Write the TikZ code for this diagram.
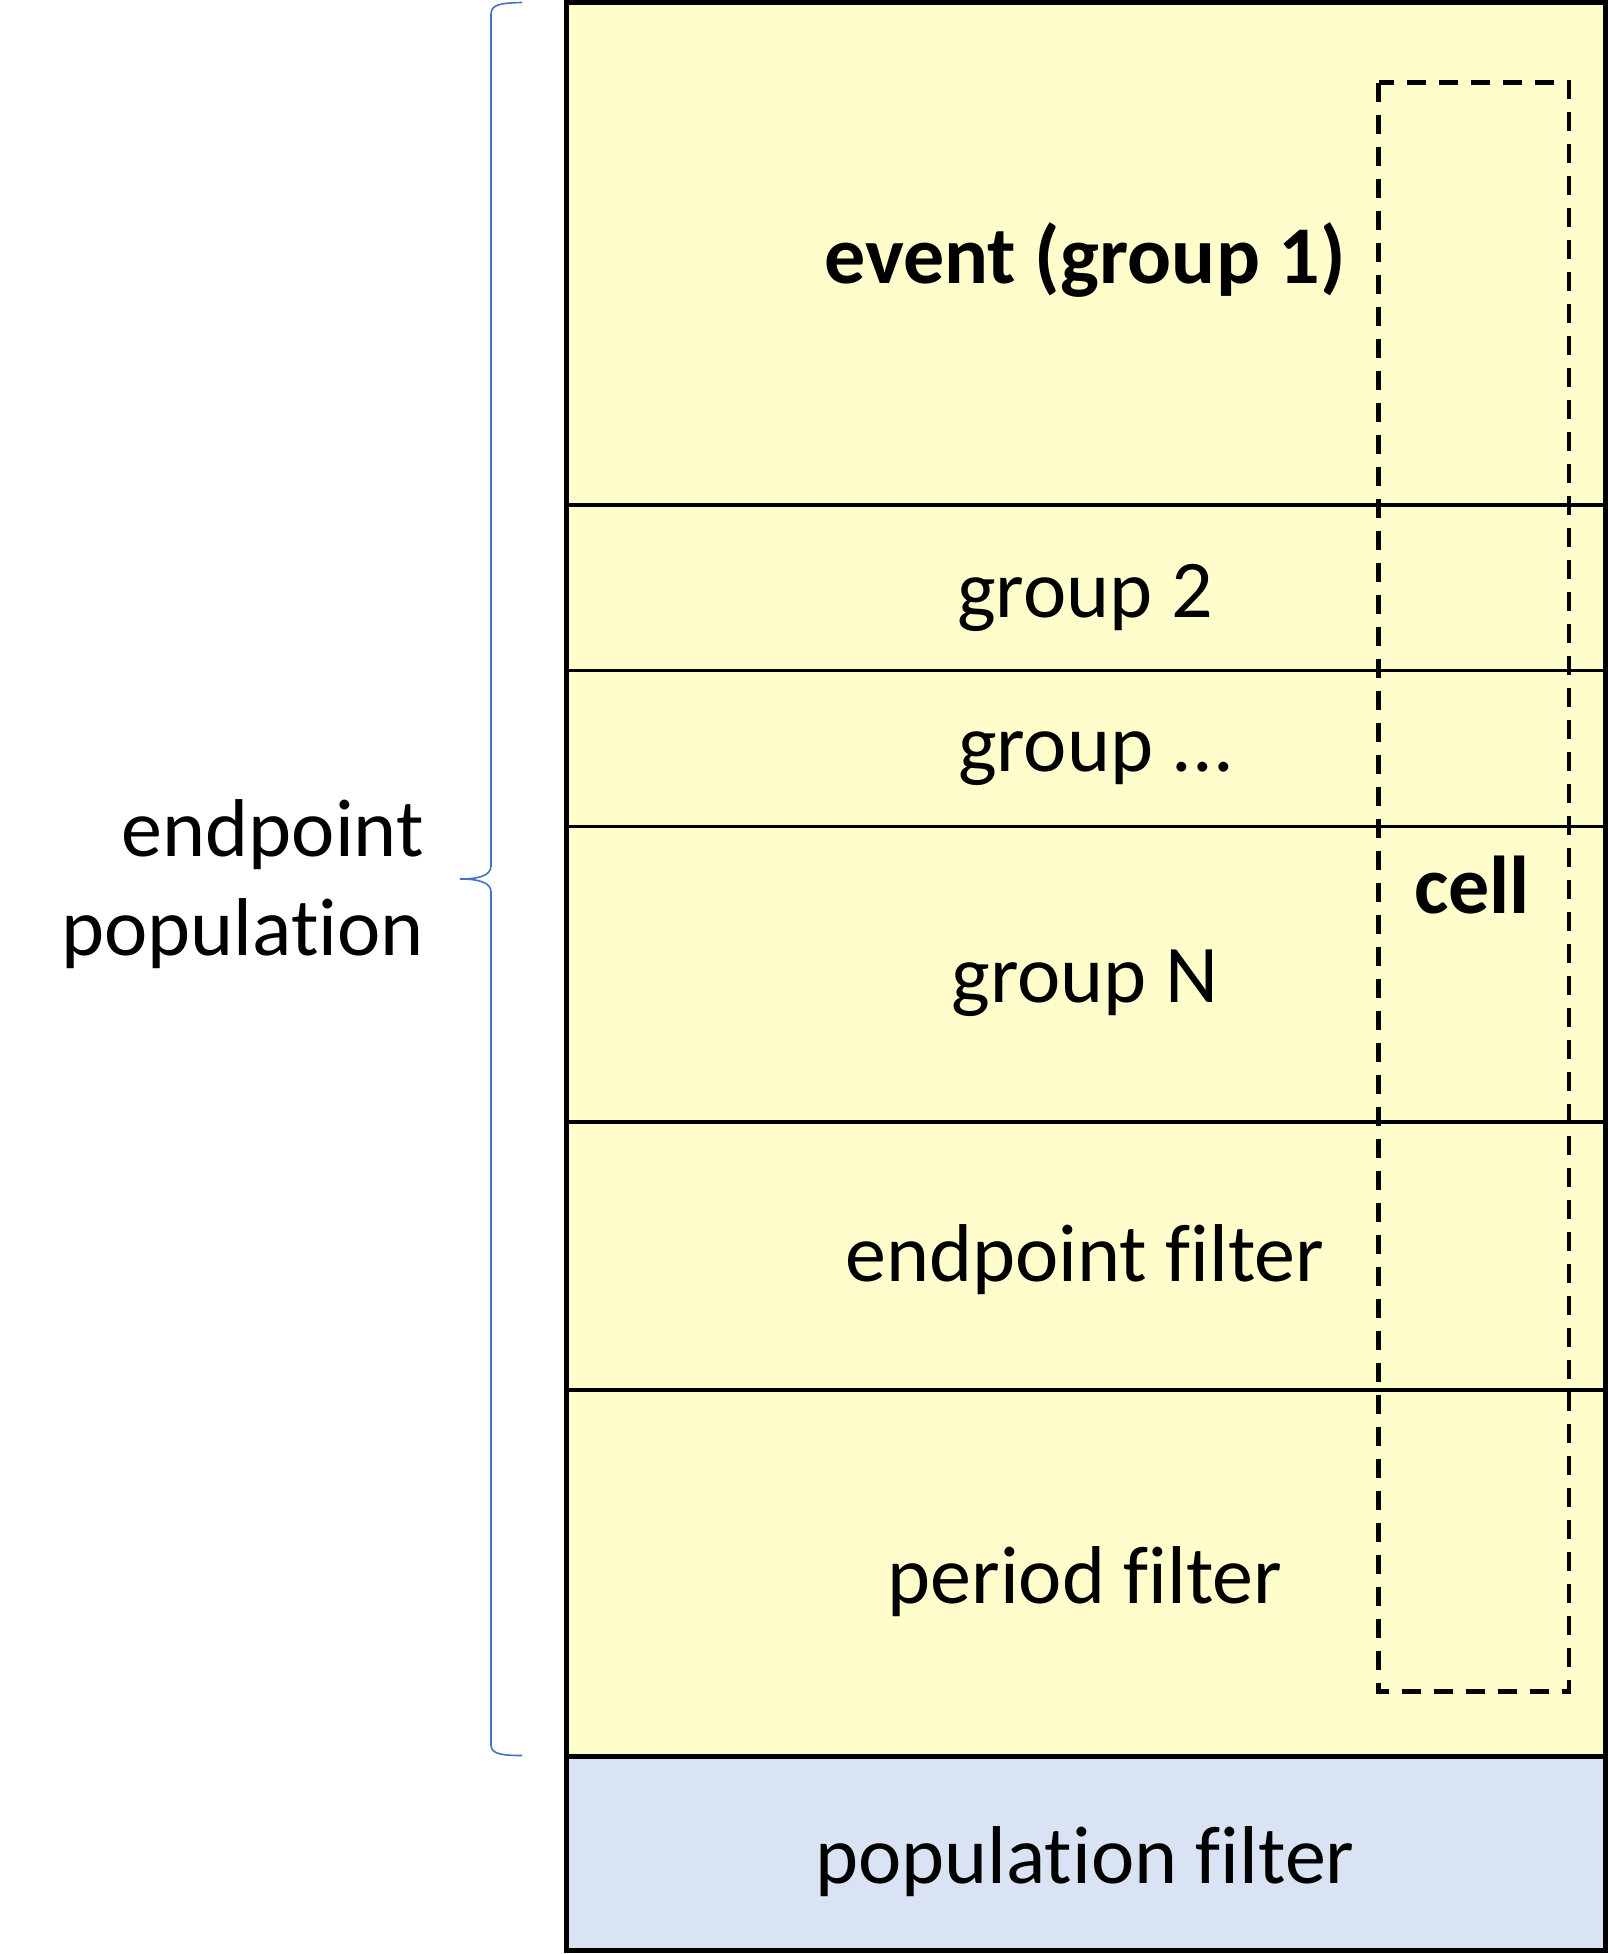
\documentclass[tikz,border=0pt]{standalone}
\usepackage{fontspec}
\setmainfont{Carlito}[Ligatures={NoCommon}]
\definecolor{rowyellow}{HTML}{FFFDCB}
\definecolor{rowblue}{HTML}{DAE3F3}
\definecolor{bracecol}{HTML}{4472C4}
\tikzset{
  frameline/.style={draw=black, line width=5pt},
  celltext/.style={anchor=base, inner sep=0pt, font=\fontsize{82}{98}\selectfont},
  boldtext/.style={celltext, font=\fontsize{82}{98}\selectfont\bfseries},
  sidetext/.style={anchor=base east, inner sep=0pt, font=\fontsize{82}{98}\selectfont},
  cellbox/.style={draw=black, line width=4.5pt, dash pattern=on 19pt off 13pt},
  bracestyle/.style={draw=bracecol, line width=1.6pt}
}
\begin{document}
\begin{tikzpicture}[x=1pt, y=-1pt]
  \useasboundingbox (0,0) rectangle (1608,1954);

  % stacked rows
  \fill[rowyellow] (566.5,2.5) rectangle (1605.5,1756.5);
  \fill[rowblue] (566.5,1756.5) rectangle (1605.5,1950.5);
  \foreach \yy in {505,670.5,826.5,1122,1390}
    \draw[black, line width=3.2pt] (566.5,\yy) -- (1605.5,\yy);
  \draw[frameline] (566.5,1756.5) -- (1605.5,1756.5);
  \draw[frameline] (566.5,2.5) rectangle (1605.5,1950.5);

  % row labels
  \node[boldtext] (event) at (1085,283) {event (group 1)};
  \node[celltext] (g2) at (1085,617) {group 2};
  \node[celltext] (gdots) at (1096,771) {group ...};
  \node[celltext] (gN) at (1085,1002) {group N};
  \node[celltext] (epf) at (1085,1281) {endpoint filter};
  \node[celltext] (perf) at (1085,1603) {period filter};
  \node[celltext] (popf) at (1085,1883) {population filter};

  % cell column
  \draw[cellbox] (1378.5,82.5) rectangle (1569,1691.5);
  \node[boldtext] (cell) at (1472,913) {cell};

  % brace and its label
  \draw[bracestyle] (522,2.5) .. controls (502,3) and (491,4) .. (491,14)
    -- (491,866) .. controls (491,875) and (480,879) .. (460,879)
    .. controls (480,879) and (491,883) .. (491,892)
    -- (491,1745) .. controls (491,1754) and (502,1755.5) .. (522,1755.5);
  \node[sidetext] (ep) at (424,856) {endpoint};
  \node[sidetext] (pop) at (424,955) {population};
\end{tikzpicture}
\end{document}
